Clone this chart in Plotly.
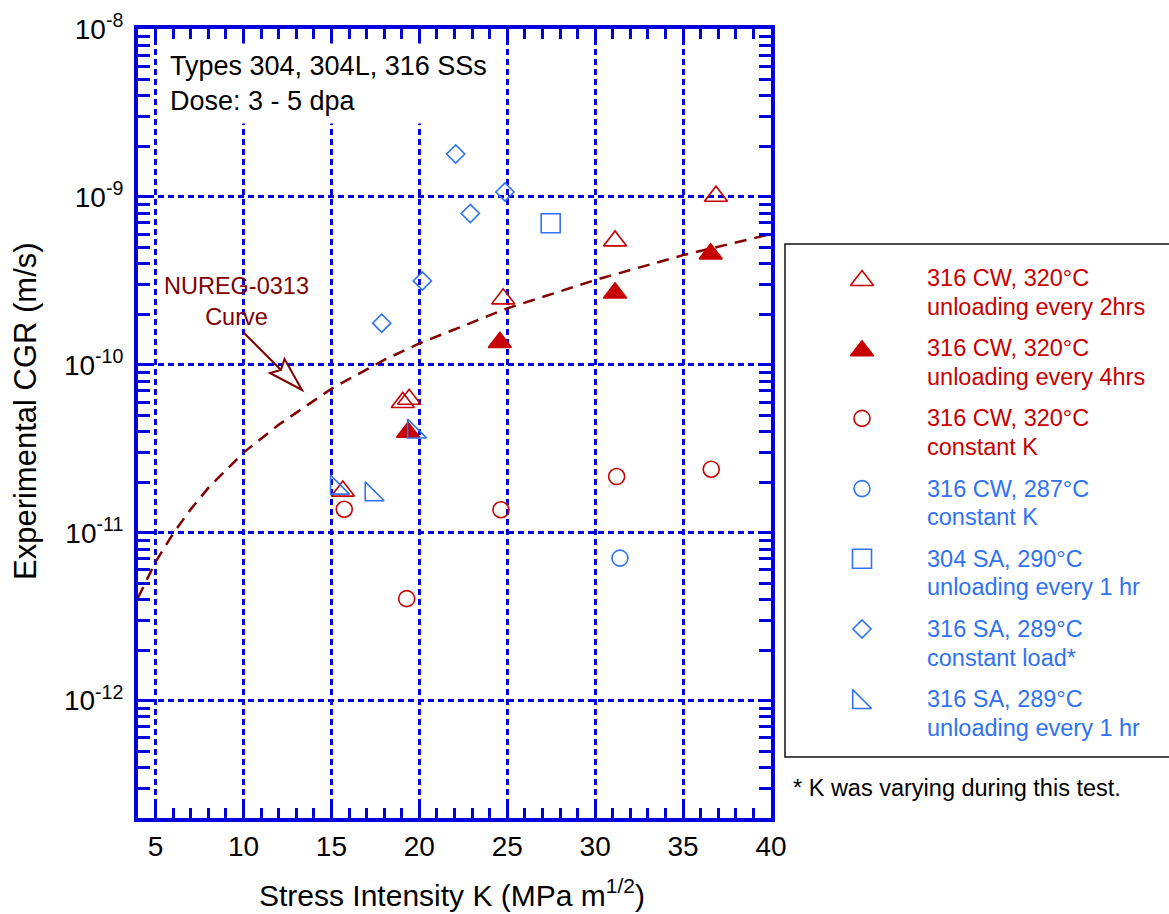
import math
import plotly.graph_objects as go

W, H = 1169, 914

# ---------------- data ----------------
k_316cw_2h = [15.65, 19.06, 19.42, 24.77, 31.13, 36.87]
cgr_316cw_2h = [1.77e-11, 5.97e-11, 6.24e-11, 2.47e-10, 5.47e-10, 1.01e-9]

k_316cw_4h = [19.36, 24.58, 31.13, 36.57]
cgr_316cw_4h = [3.97e-11, 1.36e-10, 2.68e-10, 4.58e-10]

k_316cw_320_constk = [15.73, 19.28, 24.64, 31.22, 36.6]
cgr_316cw_320_constk = [1.38e-11, 4.05e-12, 1.37e-11, 2.16e-11, 2.39e-11]

k_316cw_287_constk = [31.41]
cgr_316cw_287_constk = [7.06e-12]

k_304sa_1h = [27.47]
cgr_304sa_1h = [6.97e-10]

k_316sa_constload = [17.86, 20.17, 22.07, 22.9, 24.87]
cgr_316sa_constload = [1.77e-10, 3.16e-10, 1.80e-9, 7.96e-10, 1.07e-9]

k_316sa_1h = [15.31, 17.28, 19.69]
cgr_316sa_1h = [1.85e-11, 1.69e-11, 4.0e-11]

k_nureg = [4, 5, 6, 7, 8, 10, 12, 15, 18, 20, 25, 30, 35, 40]
cgr_nureg = [4.1e-12, 6.7e-12, 9.9e-12, 1.38e-11, 1.85e-11, 3.0e-11, 4.4e-11,
             7.2e-11, 1.07e-10, 1.34e-10, 2.17e-10, 3.2e-10, 4.5e-10, 6.0e-10]

x_tickvals = [5, 10, 15, 20, 25, 30, 35, 40]
x_ticktext = ["5", "10", "15", "20", "25", "30", "35", "40"]
y_tickvals = [1e-12, 1e-11, 1e-10, 1e-9, 1e-8]
y_ticktext = ["10<sup>-12</sup>", "10<sup>-11</sup>", "10<sup>-10</sup>",
              "10<sup>-9</sup>", "10<sup>-8</sup>"]

x_title = "Stress Intensity K (MPa m<sup>1/2</sup>)"
y_title = "Experimental CGR (m/s)"
box_text = "Types 304, 304L, 316 SSs<br>Dose: 3 - 5 dpa"
curve_text = "NUREG-0313<br>Curve"
footnote = "* K was varying during this test."

legend_line1 = ["316 CW, 320°C", "316 CW, 320°C", "316 CW, 320°C", "316 CW, 287°C",
                "304 SA, 290°C", "316 SA, 289°C", "316 SA, 289°C"]
legend_line2 = ["unloading every 2hrs", "unloading every 4hrs", "constant K", "constant K",
                "unloading every 1 hr", "constant load*", "unloading every 1 hr"]

# ---------------- styles ----------------
FONT = "Liberation Sans, Arial, sans-serif"
BLUE_FRAME = "#0000DD"
RED = "#C80000"
BLUE = "#2F72F2"
DARKRED = "#800000"

series = [
    dict(x=k_316cw_2h, y=cgr_316cw_2h, sym="triangle-up-open", size=20, color=RED),
    dict(x=k_316cw_4h, y=cgr_316cw_4h, sym="triangle-up", size=20, color=RED),
    dict(x=k_316cw_320_constk, y=cgr_316cw_320_constk, sym="circle-open", size=16, color=RED),
    dict(x=k_316cw_287_constk, y=cgr_316cw_287_constk, sym="circle-open", size=16, color=BLUE),
    dict(x=k_304sa_1h, y=cgr_304sa_1h, sym="square-open", size=19, color=BLUE),
    dict(x=k_316sa_constload, y=cgr_316sa_constload, sym="diamond-open", size=14, color=BLUE),
    dict(x=k_316sa_1h, y=cgr_316sa_1h, sym="triangle-sw-open", size=21, color=BLUE),
]

fig = go.Figure()

# NUREG curve
fig.add_trace(go.Scatter(x=k_nureg, y=cgr_nureg, mode="lines",
                         line=dict(color=DARKRED, width=2.5, dash="12px,8px"),
                         xaxis="x", yaxis="y", showlegend=False, hoverinfo="skip"))

for s in series:
    fig.add_trace(go.Scatter(
        x=s["x"], y=s["y"], mode="markers", xaxis="x", yaxis="y", showlegend=False,
        marker=dict(symbol=s["sym"], size=s["size"], color=s["color"],
                    line=dict(color=s["color"], width=1.6))))

# ---------------- custom legend (pixel space axes x2/y2) ----------------
leg_left, leg_top, leg_bottom = 785, 244, 757
sw_x = 862
row0 = 278
row_gap = 70.2
text_x = 925
offsets = {"triangle-up-open": (0, 2.5), "triangle-up": (0, 2.5),
           "triangle-sw-open": (-3, 3)}
for i, s in enumerate(series):
    ry = row0 + i * row_gap
    dx, dy = offsets.get(s["sym"], (0, 0))
    fig.add_trace(go.Scatter(
        x=[sw_x + dx], y=[ry + dy], mode="markers", xaxis="x2", yaxis="y2",
        showlegend=False, hoverinfo="skip",
        marker=dict(symbol=s["sym"], size=s["size"], color=s["color"],
                    line=dict(color=s["color"], width=1.6))))

annotations = []
for i, s in enumerate(series):
    ry = row0 + i * row_gap
    for j, txt in enumerate([legend_line1[i], legend_line2[i]]):
        annotations.append(dict(
            x=text_x, y=ry + j * 28.5, xref="x2", yref="y2", text=txt,
            showarrow=False, xanchor="left", yanchor="middle",
            font=dict(family=FONT, size=23.5, color=s["color"])))

annotations.append(dict(x=791, y=788, xref="x2", yref="y2", text=footnote,
                        showarrow=False, xanchor="left", yanchor="middle",
                        font=dict(family=FONT, size=23.5, color="black")))

# info box
annotations.append(dict(x=162, y=83, xref="x2", yref="y2", text=box_text,
                        showarrow=False, xanchor="left", yanchor="middle", align="left",
                        bgcolor="white", borderpad=7,
                        font=dict(family=FONT, size=27, color="black")))
# NUREG label
annotations.append(dict(x=236, y=301, xref="x2", yref="y2", text=curve_text,
                        showarrow=False, xanchor="center", yanchor="middle", align="center",
                        font=dict(family=FONT, size=23.5, color=DARKRED)))
# axis titles
annotations.append(dict(x=452, y=893, xref="x2", yref="y2", text=x_title,
                        showarrow=False, xanchor="center", yanchor="middle",
                        font=dict(family=FONT, size=30, color="black")))
annotations.append(dict(x=25, y=411, xref="x2", yref="y2", text=y_title, textangle=-90,
                        showarrow=False, xanchor="center", yanchor="middle",
                        font=dict(family=FONT, size=31, color="black")))

shapes = [
    dict(type="rect", xref="x2", yref="y2", x0=leg_left, x1=1185, y0=leg_top, y1=leg_bottom,
         line=dict(color="#111111", width=1.5), fillcolor="rgba(0,0,0,0)", layer="above"),
    # NUREG arrow shaft
    dict(type="path", xref="x2", yref="y2", path="M244,333 L281,370",
         line=dict(color=DARKRED, width=2.2), layer="above"),
    # hollow arrow head
    dict(type="path", xref="x2", yref="y2",
         path="M270,373 L302,390 L284.5,359 L281,370 Z",
         line=dict(color=DARKRED, width=2), fillcolor="white", layer="above"),
]

axis_common = dict(
    showline=True, linewidth=4, linecolor=BLUE_FRAME, mirror="allticks",
    ticks="inside", ticklen=13, tickwidth=3, tickcolor=BLUE_FRAME,
    showgrid=True, gridcolor=BLUE_FRAME, gridwidth=3, griddash="6px,4px",
    zeroline=False, tickfont=dict(family=FONT, size=28, color="black"),
    automargin=False,
)

fig.update_layout(
    width=W, height=H,
    margin=dict(l=0, r=0, t=0, b=0),
    paper_bgcolor="white", plot_bgcolor="rgba(0,0,0,0)",
    showlegend=False,
    xaxis=dict(domain=[138 / W, 771 / W], range=[4, 40], anchor="y",
               tickmode="array", tickvals=x_tickvals, ticktext=x_ticktext,
               ticklabelstandoff=0,
               minor=dict(dtick=1, ticks="inside", ticklen=10, tickwidth=3,
                          tickcolor=BLUE_FRAME, showgrid=False),
               **axis_common),
    yaxis=dict(domain=[1 - 818 / H, 1 - 29 / H], type="log",
               range=[math.log10(2e-13), -8], anchor="x",
               tickmode="array", tickvals=y_tickvals, ticktext=y_ticktext,
               ticklabelstandoff=5,
               minor=dict(dtick="D1", ticks="inside", ticklen=12, tickwidth=3,
                          tickcolor=BLUE_FRAME, showgrid=False),
               **axis_common),
    xaxis2=dict(domain=[0, 1], range=[0, W], anchor="y2", visible=False,
                fixedrange=True),
    yaxis2=dict(domain=[0, 1], range=[H, 0], anchor="x2", visible=False,
                fixedrange=True),
    annotations=annotations,
    shapes=shapes,
)

fig.write_html("out.html")
